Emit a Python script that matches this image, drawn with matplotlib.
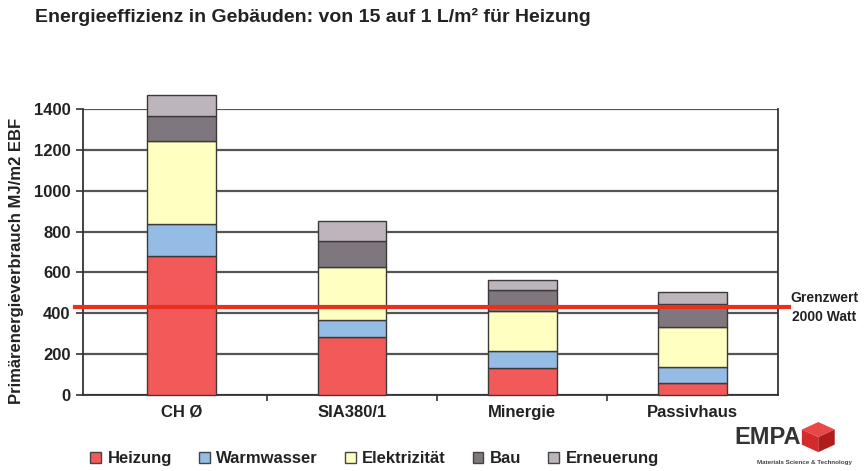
import matplotlib
matplotlib.use("Agg")
import matplotlib.pyplot as plt
import matplotlib.patches as mpatches
import numpy as np

categories = ["CH Ø", "SIA380/1", "Minergie", "Passivhaus"]
series_names = ["Heizung", "Warmwasser", "Elektrizität", "Bau", "Erneuerung"]
heizung = [680, 283, 131, 57]
warmwasser = [155, 82, 82, 79]
elektrizitaet = [410, 262, 196, 199]
bau = [123, 126, 103, 112]
erneuerung = [100, 98, 53, 57]
grenzwert = 430
yticks = [0, 200, 400, 600, 800, 1000, 1200, 1400]

colors = ["#F25A5A", "#94BCE4", "#FFFFC2", "#7F777D", "#BDB5BB"]

plt.rcParams['font.family'] = ['Liberation Sans', 'DejaVu Sans']
plt.rcParams['font.weight'] = 'bold'

fig = plt.figure(figsize=(8.65, 4.71), dpi=100)
ax = fig.add_axes([0.096, 0.1614, 0.803, 0.6072])

x = np.arange(len(categories))
bottom = np.zeros(len(categories))
for vals, col, name in zip([heizung, warmwasser, elektrizitaet, bau, erneuerung], colors, series_names):
    ax.bar(x, vals, width=0.405, bottom=bottom, color=col, edgecolor="#3a3a3a",
           linewidth=1.0, label=name, zorder=3, clip_on=False)
    bottom += np.array(vals)

ax.set_xlim(-0.58, 3.5)
ax.set_ylim(0, 1400)
ax.set_yticks(yticks)
ax.set_yticklabels([str(v) for v in yticks], fontsize=12, fontweight='bold', color="#222222")
ax.set_xticks(x)
ax.set_xticklabels(categories, fontsize=12, fontweight='bold', color="#222222")
ax.tick_params(axis='x', which='major', length=0, pad=7)
ax.set_xticks([0.5, 1.5, 2.5], minor=True)
ax.tick_params(axis='x', which='minor', length=4, width=1.2, color="#333333", direction='out')
ax.tick_params(axis='y', length=5, width=1.2, color="#333333", direction='out', pad=4)

ax.yaxis.grid(True, color="#555555", linewidth=1.6, zorder=1)
ax.set_axisbelow(True)
for s in ['left', 'bottom', 'right']:
    ax.spines[s].set_color("#333333")
    ax.spines[s].set_linewidth(1.3)
ax.spines['top'].set_visible(False)

# Grenzwert line extending beyond axes
ax.axhline(grenzwert, xmin=-0.012, xmax=1.016, color="#E8301E", linewidth=3, zorder=5, clip_on=False)
fig.text(0.953, 0.348, "Grenzwert\n2000 Watt", ha='center', va='center', fontsize=10,
         fontweight='bold', color="#222222", linespacing=1.45)

ax.set_ylabel("Primärenergieverbrauch MJ/m2 EBF", fontsize=12, fontweight='bold', color="#222222")
ax.yaxis.set_label_coords(-0.085, 0.47)

fig.text(0.04, 0.963, "Energieeffizienz in Gebäuden: von 15 auf 1 L/m² für Heizung",
         ha='left', va='center', fontsize=14, fontweight='bold', color="#222222")

handles = [mpatches.Patch(facecolor=c, edgecolor="#444444", linewidth=1.0) for c in colors]
leg = fig.legend(handles, series_names, loc='center', bbox_to_anchor=(0.433, 0.026),
                 ncol=5, frameon=False, handlelength=0.65, handleheight=0.65,
                 columnspacing=1.6, handletextpad=0.4,
                 prop={'weight': 'bold', 'size': 12})
for t in leg.get_texts():
    t.set_color("#222222")

# EMPA logo (approximation)
fig.text(0.888, 0.072, "EMPA", ha='center', va='center', fontsize=17, fontweight='heavy',
         color="#333333")
cx, cy, w, h = 0.927, 0.04, 0.038, 0.064
top = mpatches.Polygon([(cx, cy + h * 0.75), (cx + w * 0.5, cy + h), (cx + w, cy + h * 0.75),
                        (cx + w * 0.5, cy + h * 0.5)], closed=True, transform=fig.transFigure,
                       facecolor="#E84848", edgecolor="none")
left = mpatches.Polygon([(cx, cy + h * 0.75), (cx + w * 0.5, cy + h * 0.5), (cx + w * 0.5, cy),
                         (cx, cy + h * 0.25)], closed=True, transform=fig.transFigure,
                        facecolor="#D42A2A", edgecolor="none")
right = mpatches.Polygon([(cx + w * 0.5, cy + h * 0.5), (cx + w, cy + h * 0.75), (cx + w, cy + h * 0.25),
                          (cx + w * 0.5, cy)], closed=True, transform=fig.transFigure,
                         facecolor="#B01C1C", edgecolor="none")
for p in (top, left, right):
    fig.patches.append(p)
fig.text(0.93, 0.019, "Materials Science & Technology", ha='center', va='center', fontsize=4.5,
         color="#444444")

fig.savefig("out.png", dpi=100)
